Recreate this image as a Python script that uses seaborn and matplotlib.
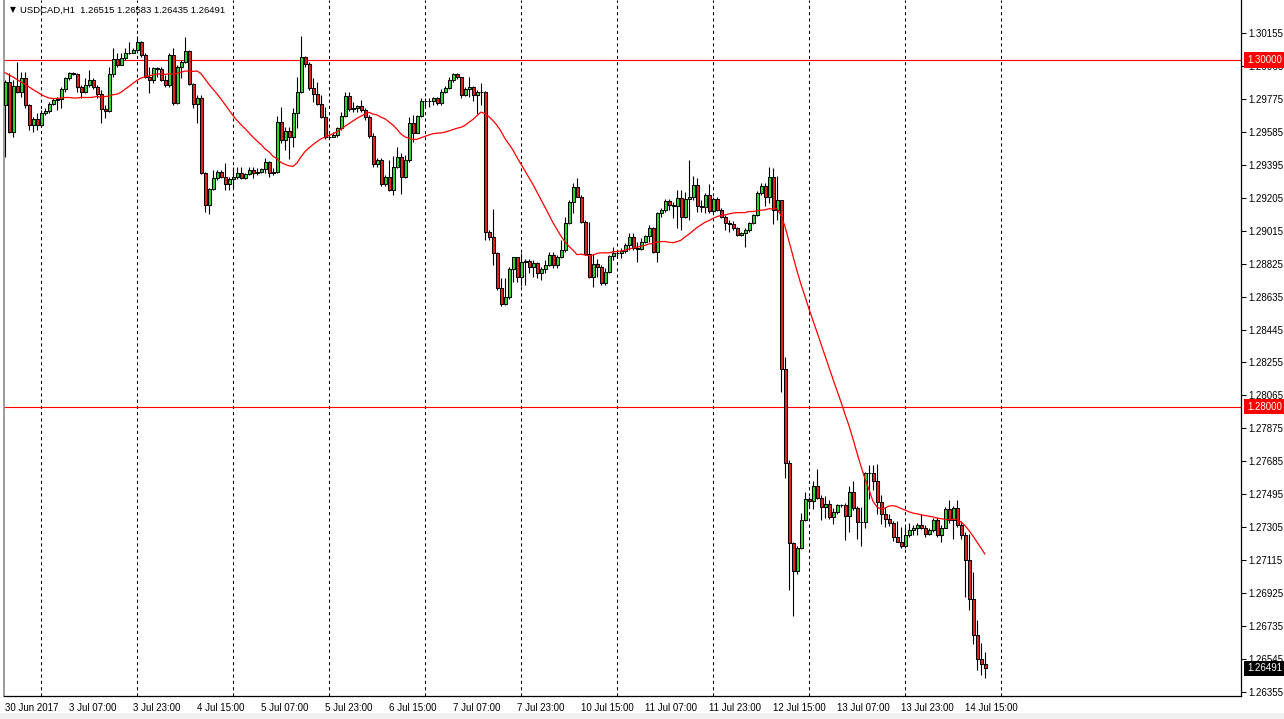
"""
USDCAD H1 candles, 30 Jun - 14 Jul 2017, in the look of a MetaTrader chart
"""
import numpy as np
import pandas as pd
import matplotlib
matplotlib.use("Agg")
import matplotlib.pyplot as plt
import matplotlib.transforms as mtransforms
from matplotlib.patches import Rectangle
import seaborn as sns

# Data: one value per hourly bar, first bar = 30 Jun 15:00
symbol = "USDCAD,H1"
first_open = 1.29740

closes = [
    1.29874, 1.29586, 1.29849, 1.29816, 1.29893, 1.29740, 1.29624, 1.29657, 1.29624, 1.29691, 1.29707, 1.29745,
    1.29768, 1.29774, 1.29830, 1.29893, 1.29922, 1.29918, 1.29845, 1.29816, 1.29855, 1.29884, 1.29841, 1.29803,
    1.29715, 1.29705, 1.29918, 1.30003, 1.29970, 1.30009, 1.30041, 1.30039, 1.30057, 1.30105, 1.30028, 1.29903,
    1.29884, 1.29951, 1.29948, 1.29884, 1.29855, 1.30028, 1.29749, 1.29961, 1.29989, 1.30053, 1.29860, 1.29745,
    1.29778, 1.29346, 1.29163, 1.29253, 1.29317, 1.29355, 1.29326, 1.29284, 1.29311, 1.29326, 1.29346, 1.29317,
    1.29342, 1.29365, 1.29349, 1.29355, 1.29369, 1.29413, 1.29349, 1.29351, 1.29643, 1.29538, 1.29592, 1.29553,
    1.29691, 1.29816, 1.30018, 1.29976, 1.29836, 1.29801, 1.29745, 1.29668, 1.29553, 1.29557, 1.29567, 1.29605,
    1.29676, 1.29791, 1.29715, 1.29720, 1.29734, 1.29711, 1.29672, 1.29561, 1.29397, 1.29422, 1.29282, 1.29326,
    1.29250, 1.29384, 1.29442, 1.29323, 1.29422, 1.29634, 1.29580, 1.29676, 1.29763, 1.29761, 1.29763, 1.29778,
    1.29749, 1.29816, 1.29836, 1.29884, 1.29918, 1.29899, 1.29797, 1.29830, 1.29841, 1.29800, 1.29815, 1.29816,
    1.29009, 1.28980, 1.28888, 1.28686, 1.28592, 1.28631, 1.28792, 1.28861, 1.28746, 1.28836, 1.28842, 1.28804,
    1.28827, 1.28773, 1.28792, 1.28817, 1.28873, 1.28817, 1.28861, 1.28903, 1.29057, 1.29182, 1.29265, 1.29211,
    1.29067, 1.28880, 1.28750, 1.28823, 1.28804, 1.28715, 1.28777, 1.28869, 1.28884, 1.28888, 1.28900, 1.28932,
    1.28980, 1.28913, 1.28907, 1.28952, 1.28984, 1.29028, 1.28894, 1.29115, 1.29134, 1.29184, 1.29161, 1.29160,
    1.29201, 1.29092, 1.29196, 1.29207, 1.29276, 1.29157, 1.29149, 1.29221, 1.29130, 1.29196, 1.29134, 1.29096,
    1.29057, 1.29053, 1.29028, 1.28990, 1.28999, 1.29019, 1.29061, 1.29105, 1.29234, 1.29275, 1.29207, 1.29322,
    1.29133, 1.29191, 1.28218, 1.27676, 1.27214, 1.27052, 1.27187, 1.27349, 1.27470, 1.27454, 1.27545, 1.27476,
    1.27420, 1.27440, 1.27363, 1.27395, 1.27436, 1.27432, 1.27369, 1.27511, 1.27414, 1.27335, 1.27337, 1.27618,
    1.27616, 1.27571, 1.27450, 1.27379, 1.27353, 1.27329, 1.27248, 1.27222, 1.27197, 1.27258, 1.27288, 1.27300,
    1.27319, 1.27302, 1.27268, 1.27288, 1.27349, 1.27258, 1.27302, 1.27410, 1.27349, 1.27414, 1.27319, 1.27262,
    1.27117, 1.26890, 1.26683, 1.26547, 1.26515, 1.26491,
]

highs = [
    1.29884, 1.29922, 1.29884, 1.29989, 1.29932, 1.29932, 1.29745, 1.29672, 1.29691, 1.29711, 1.29720, 1.29759,
    1.29778, 1.29788, 1.29845, 1.29903, 1.29932, 1.29932, 1.29926, 1.29855, 1.29893, 1.29941, 1.29893, 1.29855,
    1.29826, 1.29740, 1.29961, 1.30066, 1.30038, 1.30038, 1.30066, 1.30105, 1.30066, 1.30137, 1.30110, 1.30038,
    1.29961, 1.29961, 1.29961, 1.29961, 1.29913, 1.30038, 1.30066, 1.29970, 1.29999, 1.30134, 1.30057, 1.29864,
    1.29797, 1.29797, 1.29355, 1.29259, 1.29365, 1.29365, 1.29365, 1.29403, 1.29326, 1.29384, 1.29384, 1.29384,
    1.29346, 1.29384, 1.29384, 1.29374, 1.29374, 1.29432, 1.29417, 1.29374, 1.29676, 1.29730, 1.29615, 1.29615,
    1.29720, 1.29903, 1.30137, 1.30022, 1.29989, 1.29893, 1.29874, 1.29797, 1.29730, 1.29572, 1.29586, 1.29615,
    1.29701, 1.29816, 1.29816, 1.29759, 1.29740, 1.29768, 1.29720, 1.29682, 1.29576, 1.29432, 1.29432, 1.29336,
    1.29422, 1.29445, 1.29499, 1.29461, 1.29451, 1.29668, 1.29682, 1.29682, 1.29778, 1.29778, 1.29778, 1.29788,
    1.29788, 1.29830, 1.29849, 1.29899, 1.29926, 1.29926, 1.29903, 1.29841, 1.29903, 1.29850, 1.29825, 1.29864,
    1.29820, 1.29019, 1.29138, 1.28894, 1.28740, 1.28740, 1.28807, 1.28865, 1.28865, 1.28884, 1.28850, 1.28850,
    1.28846, 1.28836, 1.28807, 1.28846, 1.28894, 1.28894, 1.28875, 1.28961, 1.29096, 1.29192, 1.29288, 1.29317,
    1.29221, 1.29076, 1.29067, 1.28880, 1.28850, 1.28817, 1.28798, 1.28875, 1.28919, 1.28903, 1.28913, 1.28942,
    1.28999, 1.28999, 1.28952, 1.28971, 1.28990, 1.29048, 1.29038, 1.29124, 1.29144, 1.29196, 1.29196, 1.29182,
    1.29249, 1.29249, 1.29240, 1.29422, 1.29330, 1.29317, 1.29192, 1.29234, 1.29284, 1.29207, 1.29207, 1.29144,
    1.29105, 1.29076, 1.29071, 1.29038, 1.29009, 1.29028, 1.29067, 1.29111, 1.29246, 1.29290, 1.29288, 1.29383,
    1.29375, 1.29329, 1.29191, 1.28288, 1.27692, 1.27218, 1.27197, 1.27389, 1.27511, 1.27480, 1.27571, 1.27642,
    1.27490, 1.27484, 1.27464, 1.27416, 1.27440, 1.27440, 1.27444, 1.27541, 1.27571, 1.27430, 1.27420, 1.27622,
    1.27664, 1.27662, 1.27672, 1.27490, 1.27420, 1.27379, 1.27339, 1.27339, 1.27309, 1.27309, 1.27329, 1.27319,
    1.27329, 1.27379, 1.27319, 1.27298, 1.27359, 1.27363, 1.27319, 1.27420, 1.27464, 1.27430, 1.27464, 1.27339,
    1.27278, 1.27268, 1.27046, 1.26769, 1.26638, 1.26583,
]

lows = [
    1.29442, 1.29576, 1.29557, 1.29807, 1.29788, 1.29720, 1.29595, 1.29586, 1.29595, 1.29615, 1.29682, 1.29691,
    1.29740, 1.29711, 1.29720, 1.29816, 1.29884, 1.29913, 1.29816, 1.29778, 1.29807, 1.29845, 1.29830, 1.29778,
    1.29638, 1.29663, 1.29701, 1.29903, 1.29961, 1.29970, 1.29999, 1.30034, 1.30038, 1.30038, 1.30018, 1.29893,
    1.29807, 1.29864, 1.29903, 1.29880, 1.29845, 1.29845, 1.29740, 1.29745, 1.29893, 1.29980, 1.29855, 1.29720,
    1.29634, 1.29342, 1.29125, 1.29111, 1.29250, 1.29307, 1.29317, 1.29250, 1.29250, 1.29253, 1.29311, 1.29311,
    1.29311, 1.29336, 1.29317, 1.29336, 1.29346, 1.29346, 1.29326, 1.29336, 1.29346, 1.29519, 1.29480, 1.29426,
    1.29495, 1.29605, 1.29807, 1.29961, 1.29826, 1.29759, 1.29740, 1.29663, 1.29542, 1.29542, 1.29553, 1.29553,
    1.29595, 1.29668, 1.29707, 1.29701, 1.29701, 1.29701, 1.29653, 1.29547, 1.29380, 1.29384, 1.29273, 1.29273,
    1.29246, 1.29221, 1.29374, 1.29226, 1.29317, 1.29413, 1.29528, 1.29576, 1.29668, 1.29730, 1.29730, 1.29740,
    1.29740, 1.29740, 1.29807, 1.29830, 1.29874, 1.29891, 1.29778, 1.29791, 1.29788, 1.29760, 1.29690, 1.29740,
    1.28961, 1.28961, 1.28817, 1.28673, 1.28581, 1.28586, 1.28619, 1.28721, 1.28721, 1.28696, 1.28702, 1.28769,
    1.28750, 1.28740, 1.28730, 1.28769, 1.28811, 1.28798, 1.28798, 1.28855, 1.28894, 1.29053, 1.29115, 1.29207,
    1.29057, 1.28875, 1.28740, 1.28692, 1.28750, 1.28702, 1.28702, 1.28769, 1.28846, 1.28855, 1.28855, 1.28884,
    1.28903, 1.28903, 1.28836, 1.28903, 1.28946, 1.28952, 1.28884, 1.28836, 1.29096, 1.29124, 1.29134, 1.29086,
    1.29028, 1.29019, 1.29086, 1.29076, 1.29192, 1.29124, 1.29124, 1.29119, 1.29119, 1.29124, 1.29130, 1.29086,
    1.29019, 1.29009, 1.29019, 1.28985, 1.28984, 1.28923, 1.29009, 1.29053, 1.29100, 1.29220, 1.29157, 1.29177,
    1.29056, 1.29076, 1.28086, 1.27591, 1.26945, 1.26793, 1.27036, 1.27177, 1.27339, 1.27420, 1.27410, 1.27470,
    1.27349, 1.27359, 1.27355, 1.27323, 1.27383, 1.27420, 1.27234, 1.27278, 1.27404, 1.27238, 1.27197, 1.27298,
    1.27470, 1.27521, 1.27379, 1.27323, 1.27309, 1.27315, 1.27228, 1.27218, 1.27187, 1.27187, 1.27248, 1.27258,
    1.27262, 1.27294, 1.27248, 1.27262, 1.27278, 1.27248, 1.27218, 1.27298, 1.27329, 1.27238, 1.27309, 1.27238,
    1.26905, 1.26830, 1.26632, 1.26480, 1.26454, 1.26435,
]

# moving average of the first bars (its window reaches back before the screen)
ma_head = [1.29926, 1.29913, 1.29901, 1.29887, 1.29872, 1.29858, 1.29844, 1.29829, 1.29815, 1.29800,
           1.29789, 1.29780, 1.29777, 1.29777, 1.29780, 1.29783, 1.29783, 1.29780, 1.29780, 1.29783,
           1.29783, 1.29783, 1.29784]
ma_period = 24

x_labels = ["30 Jun 2017", "3 Jul 07:00", "3 Jul 23:00", "4 Jul 15:00", "5 Jul 07:00",
            "5 Jul 23:00", "6 Jul 15:00", "7 Jul 07:00", "7 Jul 23:00", "10 Jul 15:00",
            "11 Jul 07:00", "11 Jul 23:00", "12 Jul 15:00", "13 Jul 07:00", "13 Jul 23:00",
            "14 Jul 15:00"]
y_ticks = [1.26355, 1.26545, 1.26735, 1.26925, 1.27115, 1.27305, 1.27495, 1.27685, 1.27875,
           1.28065, 1.28255, 1.28445, 1.28635, 1.28825, 1.29015, 1.29205, 1.29395, 1.29585,
           1.29775, 1.29965, 1.30155]
levels = [1.30000, 1.28000]

# Build DataFrame
df = pd.DataFrame({"close": closes, "high": highs, "low": lows})
df["open"] = df["close"].shift(1).fillna(first_open)
df["bar"] = np.arange(len(df))
df["ma"] = df["close"].rolling(ma_period).mean()
df.loc[:len(ma_head) - 1, "ma"] = ma_head
up = df["close"] >= df["open"]

sns.set_theme(style="white")
plt.rcParams["font.family"] = ["Liberation Sans", "DejaVu Sans"]
fs = 7.0

W, H = 1284, 719
fig = plt.figure(figsize=(W / 100, H / 100), dpi=100)
ax = fig.add_axes([4 / W, 1 - 696 / H, (1241 - 4) / W, 696 / H])
ax.set_facecolor("white")

# day separators
for b in range(9, 250, 24):
    ax.axvline(b, color="black", lw=0.75, ls=(0, (3, 3)), zorder=1)

# round number levels
for lv in levels:
    ax.axhline(lv, color="red", lw=0.8, zorder=1)

# candles
ax.vlines(df["bar"], df["low"], df["high"], color="black", lw=0.8, zorder=2)
body_lo = df[["open", "close"]].min(axis=1)
body_h = (df["close"] - df["open"]).abs()
ax.bar(df["bar"], body_h, bottom=body_lo, width=0.75,
       color=np.where(up, "#2bdc2b", "#e8211d"), edgecolor="black",
       linewidth=0.75, zorder=3)

# moving average
sns.lineplot(x=df["bar"], y=df["ma"], color="red", lw=0.9, ax=ax, zorder=4)

ax.set_xlim(-0.25, 309)
ax.set_ylim(1.26332, 1.30345)

# axes
ax.yaxis.tick_right()
ax.set_yticks(y_ticks)
ax.set_yticklabels([f"{v:.5f}" for v in y_ticks])
ax.set_xticks(np.arange(0, 16 * len(x_labels), 16))
ax.set_xticklabels(x_labels, ha="left")
ax.tick_params(axis="both", direction="out", length=3.5, width=0.75,
               colors="black", labelsize=fs)
ax.tick_params(axis="y", pad=2)
ax.tick_params(axis="x", pad=1.5)
ax.set_xlabel("")
ax.set_ylabel("")
ax.spines["top"].set_visible(False)
ax.spines["right"].set_color("black")
ax.spines["bottom"].set_color("black")
ax.spines["right"].set_linewidth(0.9)
ax.spines["bottom"].set_linewidth(0.9)
ax.spines["left"].set_color("#8a8a8a")
ax.spines["left"].set_linewidth(1.2)

# price boxes on the right scale
tr = mtransforms.blended_transform_factory(ax.transAxes, ax.transData)
box_x = 1 + 6 / (1241 - 4)
for lv in levels:
    ax.text(box_x, lv, f"{lv:.5f}", transform=tr, ha="left", va="center",
            color="white", fontsize=fs, clip_on=False, zorder=10,
            bbox=dict(boxstyle="square,pad=0.28", fc="red", ec="none"))
ax.text(box_x, df["close"].iloc[-1], f"{df['close'].iloc[-1]:.5f}", transform=tr,
        ha="left", va="center", color="white", fontsize=fs, clip_on=False,
        zorder=10, bbox=dict(boxstyle="square,pad=0.28", fc="black", ec="none"))

# header with last bar values
last = df.iloc[-1]
fig.text(10 / W, 1 - 10 / H, "\u25bc", fontsize=5.5, color="black", va="center",
         family=["DejaVu Sans"])
fig.text(20 / W, 1 - 10 / H,
         f"{symbol}  {last['open']:.5f} {last['high']:.5f} {last['low']:.5f} {last['close']:.5f}",
         fontsize=6.8, color="black", va="center")

# grey window strip at the bottom
fig.patches.append(Rectangle((0, 0), 1, 6 / H, transform=fig.transFigure,
                             facecolor="#f0f0f0", edgecolor="none"))

fig.savefig("out.png", dpi=100)
